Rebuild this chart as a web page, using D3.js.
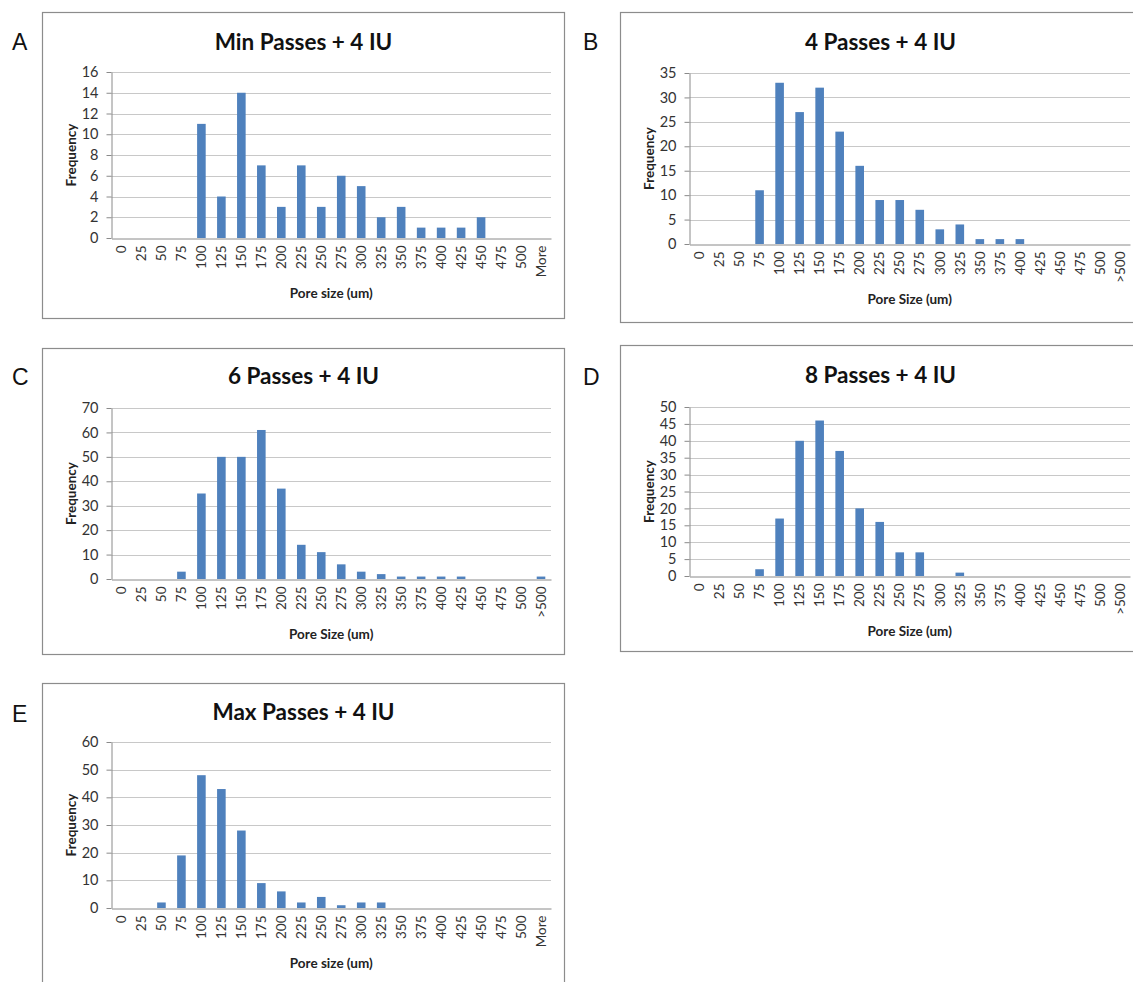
<!DOCTYPE html>
<html>
<head>
<meta charset="utf-8">
<script src="https://cdn.jsdelivr.net/npm/d3@7"></script>
<style>
  body { margin: 0; background: #fff; }
  svg { display: block; }
</style>
</head>
<body>
<div id="chart"></div>
<script>
// bins (pore size, um)
const binsMore = ['0','25','50','75','100','125','150','175','200','225','250','275','300','325','350','375','400','425','450','475','500','More']
const binsOver = ['0','25','50','75','100','125','150','175','200','225','250','275','300','325','350','375','400','425','450','475','500','>500']

// frequencies
const minPasses   = [0,0,0,0,11,4,14,7,3,7,3,6,5,2,3,1,1,1,2,0,0,0]
const fourPasses  = [0,0,0,11,33,27,32,23,16,9,9,7,3,4,1,1,1,0,0,0,0,0]
const sixPasses   = [0,0,0,3,35,50,50,61,37,14,11,6,3,2,1,1,1,1,0,0,0,1]
const eightPasses = [0,0,0,2,17,40,46,37,20,16,7,7,0,1,0,0,0,0,0,0,0,0]
const maxPasses   = [0,0,2,19,48,43,28,9,6,2,4,1,2,2,0,0,0,0,0,0,0,0]

const titles = ['Min Passes + 4 IU', '4 Passes + 4 IU', '6 Passes + 4 IU', '8 Passes + 4 IU', 'Max Passes + 4 IU']
const letters = ['A', 'B', 'C', 'D', 'E']
const xTitles = ['Pore size (um)', 'Pore Size (um)', 'Pore Size (um)', 'Pore Size (um)', 'Pore size (um)']
const yMaxes = [16, 35, 70, 50, 60]
const yStepsList = [2, 5, 10, 5, 10]

// panel geometry (box + plot area)
const layout = [
  { bins: binsMore, values: minPasses,   box: [42.5, 12.5, 522, 306],  plot: [111.5, 551, 72, 238],  titleY: 42, letter: [12, 50] },
  { bins: binsOver, values: fourPasses,  box: [620.5, 12.5, 520, 310], plot: [689.5, 1130, 73, 244], titleY: 42, letter: [583, 50] },
  { bins: binsOver, values: sixPasses,   box: [42.5, 348.5, 522, 306], plot: [111.5, 551, 408, 579], titleY: 376, letter: [12, 385] },
  { bins: binsOver, values: eightPasses, box: [620.5, 345.5, 520, 306], plot: [689.5, 1130, 407, 576], titleY: 375, letter: [583, 385] },
  { bins: binsMore, values: maxPasses,   box: [42.5, 683.5, 522, 320], plot: [111.5, 551, 742, 908], titleY: 712, letter: [12, 722] }
]

const width = 1133, height = 982
const barColor = '#4f81bd'
const gridColor = '#c8c8c8'
const axisColor = '#8a8a8a'
const textColor = '#333'
const font = 'Lato, Carlito, Calibri, sans-serif'

const svg = d3.select('#chart').append('svg')
  .attr('width', width)
  .attr('height', height)
  .attr('viewBox', `0 0 ${width} ${height}`)

svg.append('rect').attr('width', width).attr('height', height).attr('fill', '#fff')

layout.forEach((p, i) => drawPanel(p, i))


// draws one histogram panel
function drawPanel(p, i) {
  const [bx, by, bw, bh] = p.box
  const [left, right, top, bottom] = p.plot
  const g = svg.append('g')

  // outer frame
  g.append('rect')
    .attr('x', bx).attr('y', by).attr('width', bw).attr('height', bh)
    .attr('fill', '#fff').attr('stroke', '#8c8c8c').attr('stroke-width', 1.2)

  // panel letter
  svg.append('text')
    .attr('x', p.letter[0]).attr('y', p.letter[1])
    .attr('font-family', 'Liberation Sans, Arial, sans-serif')
    .attr('font-size', 23)
    .attr('fill', '#111')
    .text(letters[i])

  // title
  g.append('text')
    .attr('x', bx + bw / 2).attr('y', p.titleY)
    .attr('dy', '0.35em')
    .attr('text-anchor', 'middle')
    .attr('font-family', font).attr('font-weight', 700).attr('font-size', 22.5)
    .attr('fill', '#111')
    .text(titles[i])

  // scales
  const x = d3.scaleBand()
    .domain(p.bins)
    .range([left, right])
    .paddingInner(0.57)
    .paddingOuter(0.285)

  const y = d3.scaleLinear()
    .domain([0, yMaxes[i]])
    .range([bottom, top])

  const yTicks = d3.range(0, yMaxes[i] + 0.001, yStepsList[i])

  // gridlines
  g.append('g').selectAll('line')
    .data(yTicks.filter(d => d > 0))
    .join('line')
      .attr('x1', left).attr('x2', right)
      .attr('y1', d => Math.round(y(d)) + 0.5).attr('y2', d => Math.round(y(d)) + 0.5)
      .attr('stroke', gridColor)

  // bars
  g.append('g').selectAll('rect')
    .data(p.bins.map((b, k) => ({ bin: b, value: p.values[k] })))
    .join('rect')
      .attr('x', d => x(d.bin))
      .attr('y', d => y(d.value))
      .attr('width', x.bandwidth())
      .attr('height', d => y(0) - y(d.value))
      .attr('fill', barColor)

  // y axis
  const yAxis = g.append('g')
    .attr('transform', `translate(${left},0)`)
    .call(d3.axisLeft(y).tickValues(yTicks).tickSize(5).tickPadding(8).tickSizeOuter(0))
  yAxis.select('.domain').attr('stroke', axisColor)
  yAxis.selectAll('.tick line').attr('stroke', axisColor)
  yAxis.selectAll('text')
    .attr('font-family', font).attr('font-size', 14.5).attr('fill', textColor)

  // x axis
  const xAxis = g.append('g')
    .attr('transform', `translate(0,${Math.round(y(0)) + 0.5})`)
    .call(d3.axisBottom(x).tickSize(0).tickSizeOuter(0))
  xAxis.select('.domain').attr('stroke', axisColor)
  xAxis.selectAll('text')
    .attr('transform', 'rotate(-90)')
    .attr('x', -7).attr('y', 0).attr('dy', '0.35em')
    .style('text-anchor', 'end')
    .attr('font-family', font).attr('font-size', 13.5).attr('fill', textColor)

  // axis titles
  g.append('text')
    .attr('x', (left + right) / 2).attr('y', bottom + 55)
    .attr('dy', '0.35em')
    .attr('text-anchor', 'middle')
    .attr('font-family', font).attr('font-weight', 700).attr('font-size', 13.5)
    .attr('fill', '#222')
    .text(xTitles[i])

  g.append('text')
    .attr('transform', `translate(${left - 40},${(top + bottom) / 2}) rotate(-90)`)
    .attr('dy', '0.35em')
    .attr('text-anchor', 'middle')
    .attr('font-family', font).attr('font-weight', 700).attr('font-size', 13.5)
    .attr('fill', '#222')
    .text('Frequency')
}
</script>
</body>
</html>
